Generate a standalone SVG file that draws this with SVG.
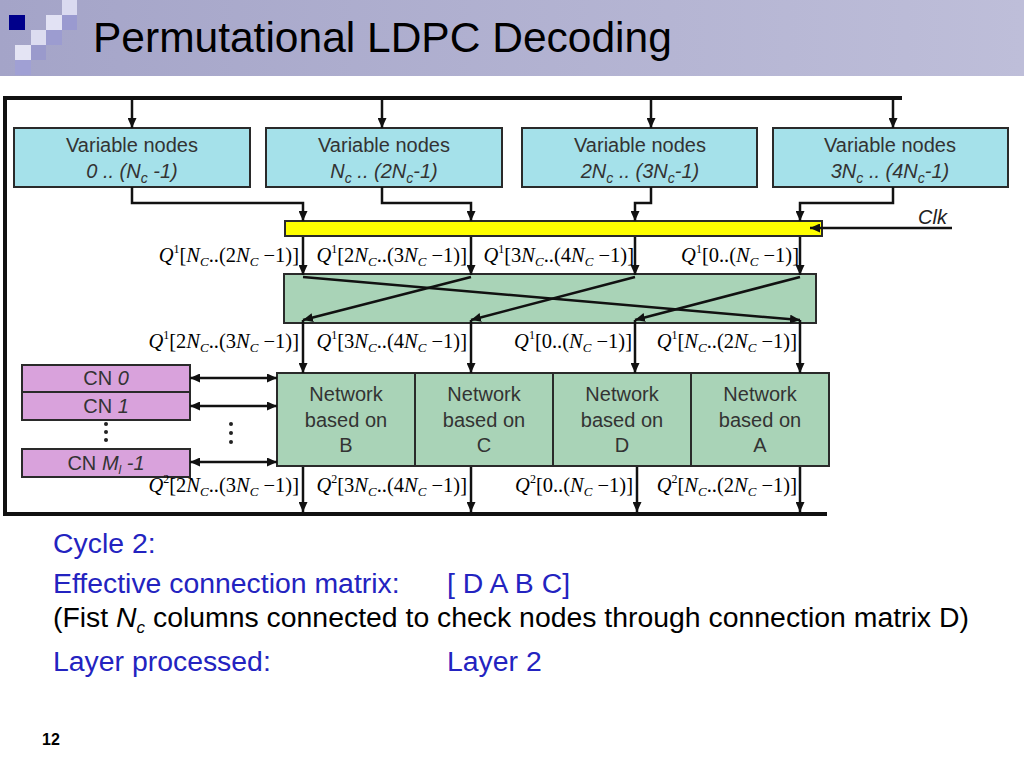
<svg xmlns="http://www.w3.org/2000/svg" width="1024" height="768" viewBox="0 0 1024 768">
<defs>
<linearGradient id="hdr" x1="0" y1="0" x2="1" y2="0">
<stop offset="0" stop-color="#a4a4c8"/>
<stop offset="1" stop-color="#bebed9"/>
</linearGradient>
<marker id="ah" markerUnits="userSpaceOnUse" markerWidth="10" markerHeight="9" refX="10" refY="4.5" orient="auto-start-reverse">
<path d="M0,0 L10,4.5 L0,9 z" fill="#111"/>
</marker>
</defs>
<style>
.sans{font-family:"Liberation Sans",Arial,sans-serif}
.box{stroke:#2a2a2a;stroke-width:2}
.vn{fill:#a5e1ea}
.nw{fill:#a9d3b7}
.cn{fill:#d9a2dc}
.bt{font-family:"Liberation Sans",Arial,sans-serif;font-size:20px;fill:#333;text-anchor:middle}
.it{font-style:italic}
.q{font-family:"Liberation Serif","Times New Roman",serif;font-size:20.5px;fill:#000;text-anchor:end}
.c{fill:none;stroke:#111;stroke-width:2.5}
.a{marker-end:url(#ah)}
.bus{fill:none;stroke:#111;stroke-width:4}
.blue{font-family:"Liberation Sans",Arial,sans-serif;font-size:28.4px;fill:#2323c0}
.blk{font-family:"Liberation Sans",Arial,sans-serif;font-size:28.4px;fill:#000}
</style>
<g id="header">
<rect x="0" y="0" width="1024" height="76" fill="url(#hdr)"/>
<rect x="62" y="0" width="15" height="15" fill="#dadaf0"/>
<rect x="9" y="15" width="16" height="15" fill="#00008b"/>
<rect x="46" y="15" width="16" height="15" fill="#e2e2f4"/>
<rect x="62" y="15" width="15" height="15" fill="#9a9ad0"/>
<rect x="31" y="30" width="15" height="15" fill="#dcdcf0"/>
<rect x="46" y="30" width="16" height="15" fill="#9c9cd0"/>
<rect x="15" y="45" width="16" height="15" fill="#e4e4f4"/>
<rect x="31" y="45" width="15" height="15" fill="#9a9acc"/>
<rect x="15" y="60" width="16" height="15" fill="#a0a0d4"/>
<text class="sans" x="93" y="52" font-size="42.5" fill="#000">Permutational LDPC Decoding</text>
</g>
<g id="vn0">
<rect class="box vn" x="14" y="128" width="236" height="59"/>
<text class="bt" x="132" y="152">Variable nodes</text>
<text class="bt it" x="132" y="178">0 .. (N<tspan font-size="14" dy="5">c</tspan><tspan dy="-5"> -1)</tspan></text>
</g>
<g id="vn1">
<rect class="box vn" x="266" y="128" width="236" height="59"/>
<text class="bt" x="384" y="152">Variable nodes</text>
<text class="bt it" x="384" y="178">N<tspan font-size="14" dy="5">c</tspan><tspan dy="-5"> .. (2N</tspan><tspan font-size="14" dy="5">c</tspan><tspan dy="-5">-1)</tspan></text>
</g>
<g id="vn2">
<rect class="box vn" x="522" y="128" width="235" height="59"/>
<text class="bt" x="640" y="152">Variable nodes</text>
<text class="bt it" x="640" y="178">2N<tspan font-size="14" dy="5">c</tspan><tspan dy="-5"> .. (3N</tspan><tspan font-size="14" dy="5">c</tspan><tspan dy="-5">-1)</tspan></text>
</g>
<g id="vn3">
<rect class="box vn" x="773" y="128" width="235" height="59"/>
<text class="bt" x="890" y="152">Variable nodes</text>
<text class="bt it" x="890" y="178">3N<tspan font-size="14" dy="5">c</tspan><tspan dy="-5"> .. (4N</tspan><tspan font-size="14" dy="5">c</tspan><tspan dy="-5">-1)</tspan></text>
</g>
<g id="register">
<rect x="285" y="221" width="537" height="15" fill="#ffff00" stroke="#2a2a2a" stroke-width="2"/>
<text class="sans it" x="918" y="224" font-size="20" fill="#222">Clk</text>
</g>
<g id="permutation">
<rect class="box nw" x="284" y="274" width="532" height="49"/>
</g>
<g id="net-b">
<rect class="box nw" x="277" y="373" width="138" height="93"/>
<text class="bt" x="346" y="401">Network</text>
<text class="bt" x="346" y="427">based on</text>
<text class="bt" x="346" y="452">B</text>
</g>
<g id="net-c">
<rect class="box nw" x="415" y="373" width="138" height="93"/>
<text class="bt" x="484" y="401">Network</text>
<text class="bt" x="484" y="427">based on</text>
<text class="bt" x="484" y="452">C</text>
</g>
<g id="net-d">
<rect class="box nw" x="553" y="373" width="138" height="93"/>
<text class="bt" x="622" y="401">Network</text>
<text class="bt" x="622" y="427">based on</text>
<text class="bt" x="622" y="452">D</text>
</g>
<g id="net-a">
<rect class="box nw" x="691" y="373" width="138" height="93"/>
<text class="bt" x="760" y="401">Network</text>
<text class="bt" x="760" y="427">based on</text>
<text class="bt" x="760" y="452">A</text>
</g>
<g id="cn0">
<rect class="box cn" x="22" y="365" width="168" height="27"/>
<text class="bt" x="106" y="385" font-size="18">CN <tspan class="it">0</tspan></text>
</g>
<g id="cn1">
<rect class="box cn" x="22" y="392" width="168" height="28"/>
<text class="bt" x="106" y="413" font-size="18">CN <tspan class="it">1</tspan></text>
</g>
<g id="cnm">
<rect class="box cn" x="22" y="449" width="168" height="28"/>
<text class="bt" x="106" y="470" font-size="18">CN <tspan class="it">M<tspan font-size="12" dy="4">l</tspan><tspan dy="-4"> -1</tspan></tspan></text>
</g>
<g id="dots" fill="#222">
<circle cx="106" cy="424" r="2"/><circle cx="106" cy="432" r="2"/><circle cx="106" cy="440" r="2"/>
<circle cx="231" cy="424" r="2"/><circle cx="231" cy="433" r="2"/><circle cx="231" cy="442" r="2"/>
</g>
<g id="connectors">
<path class="bus" d="M902,98 H5 V514 H827"/>
<path class="c a" d="M132,98 V128"/>
<path class="c a" d="M382,98 V128"/>
<path class="c a" d="M651,98 V128"/>
<path class="c a" d="M893,98 V128"/>
<path class="c a" d="M132,187 V203 H303 V221"/>
<path class="c a" d="M382,187 V203 H471 V221"/>
<path class="c a" d="M651,187 V203 H635 V221"/>
<path class="c a" d="M893,187 V203 H800 V221"/>
<path class="c a" d="M952,228 H810"/>
<path class="c a" d="M303,237 V275"/>
<path class="c a" d="M471,237 V275"/>
<path class="c a" d="M635,237 V275"/>
<path class="c a" d="M800,237 V275"/>
<path class="c a" d="M303,277 L800,320"/>
<path class="c a" d="M471,277 L303,320"/>
<path class="c a" d="M635,277 L471,320"/>
<path class="c a" d="M800,277 L635,320"/>
<path class="c a" d="M303,320 V373"/>
<path class="c a" d="M471,320 V373"/>
<path class="c a" d="M635,320 V373"/>
<path class="c a" d="M800,320 V373"/>
<path class="c a" d="M303,467 V512"/>
<path class="c a" d="M471,467 V512"/>
<path class="c a" d="M637,467 V512"/>
<path class="c a" d="M800,467 V512"/>
<path class="c" stroke-width="2" d="M190,378 H277" marker-start="url(#ah)" marker-end="url(#ah)"/>
<path class="c" stroke-width="2" d="M190,406 H277" marker-start="url(#ah)" marker-end="url(#ah)"/>
<path class="c" stroke-width="2" d="M190,462 H277" marker-start="url(#ah)" marker-end="url(#ah)"/>
</g>
<g id="labels">
<text class="q" x="299" y="262"><tspan class="it">Q</tspan><tspan font-size="12" dy="-9">1</tspan><tspan dy="9">[</tspan><tspan class="it">N</tspan><tspan class="it" font-size="13" dy="4">C</tspan><tspan dy="-4">..(2</tspan><tspan class="it">N</tspan><tspan class="it" font-size="13" dy="4">C</tspan><tspan dy="-4"> −1)]</tspan></text>
<text class="q" x="467" y="262"><tspan class="it">Q</tspan><tspan font-size="12" dy="-9">1</tspan><tspan dy="9">[2</tspan><tspan class="it">N</tspan><tspan class="it" font-size="13" dy="4">C</tspan><tspan dy="-4">..(3</tspan><tspan class="it">N</tspan><tspan class="it" font-size="13" dy="4">C</tspan><tspan dy="-4"> −1)]</tspan></text>
<text class="q" x="634" y="262"><tspan class="it">Q</tspan><tspan font-size="12" dy="-9">1</tspan><tspan dy="9">[3</tspan><tspan class="it">N</tspan><tspan class="it" font-size="13" dy="4">C</tspan><tspan dy="-4">..(4</tspan><tspan class="it">N</tspan><tspan class="it" font-size="13" dy="4">C</tspan><tspan dy="-4"> −1)]</tspan></text>
<text class="q" x="799" y="262"><tspan class="it">Q</tspan><tspan font-size="12" dy="-9">1</tspan><tspan dy="9">[0..(</tspan><tspan class="it">N</tspan><tspan class="it" font-size="13" dy="4">C</tspan><tspan dy="-4"> −1)]</tspan></text>

<text class="q" x="299" y="348"><tspan class="it">Q</tspan><tspan font-size="12" dy="-9">1</tspan><tspan dy="9">[2</tspan><tspan class="it">N</tspan><tspan class="it" font-size="13" dy="4">C</tspan><tspan dy="-4">..(3</tspan><tspan class="it">N</tspan><tspan class="it" font-size="13" dy="4">C</tspan><tspan dy="-4"> −1)]</tspan></text>
<text class="q" x="467" y="348"><tspan class="it">Q</tspan><tspan font-size="12" dy="-9">1</tspan><tspan dy="9">[3</tspan><tspan class="it">N</tspan><tspan class="it" font-size="13" dy="4">C</tspan><tspan dy="-4">..(4</tspan><tspan class="it">N</tspan><tspan class="it" font-size="13" dy="4">C</tspan><tspan dy="-4"> −1)]</tspan></text>
<text class="q" x="632" y="348"><tspan class="it">Q</tspan><tspan font-size="12" dy="-9">1</tspan><tspan dy="9">[0..(</tspan><tspan class="it">N</tspan><tspan class="it" font-size="13" dy="4">C</tspan><tspan dy="-4"> −1)]</tspan></text>
<text class="q" x="797" y="348"><tspan class="it">Q</tspan><tspan font-size="12" dy="-9">1</tspan><tspan dy="9">[</tspan><tspan class="it">N</tspan><tspan class="it" font-size="13" dy="4">C</tspan><tspan dy="-4">..(2</tspan><tspan class="it">N</tspan><tspan class="it" font-size="13" dy="4">C</tspan><tspan dy="-4"> −1)]</tspan></text>

<text class="q" x="299" y="492"><tspan class="it">Q</tspan><tspan font-size="12" dy="-9">2</tspan><tspan dy="9">[2</tspan><tspan class="it">N</tspan><tspan class="it" font-size="13" dy="4">C</tspan><tspan dy="-4">..(3</tspan><tspan class="it">N</tspan><tspan class="it" font-size="13" dy="4">C</tspan><tspan dy="-4"> −1)]</tspan></text>
<text class="q" x="467" y="492"><tspan class="it">Q</tspan><tspan font-size="12" dy="-9">2</tspan><tspan dy="9">[3</tspan><tspan class="it">N</tspan><tspan class="it" font-size="13" dy="4">C</tspan><tspan dy="-4">..(4</tspan><tspan class="it">N</tspan><tspan class="it" font-size="13" dy="4">C</tspan><tspan dy="-4"> −1)]</tspan></text>
<text class="q" x="633" y="492"><tspan class="it">Q</tspan><tspan font-size="12" dy="-9">2</tspan><tspan dy="9">[0..(</tspan><tspan class="it">N</tspan><tspan class="it" font-size="13" dy="4">C</tspan><tspan dy="-4"> −1)]</tspan></text>
<text class="q" x="797" y="492"><tspan class="it">Q</tspan><tspan font-size="12" dy="-9">2</tspan><tspan dy="9">[</tspan><tspan class="it">N</tspan><tspan class="it" font-size="13" dy="4">C</tspan><tspan dy="-4">..(2</tspan><tspan class="it">N</tspan><tspan class="it" font-size="13" dy="4">C</tspan><tspan dy="-4"> −1)]</tspan></text>
</g>
<g id="notes">
<text class="blue" x="53" y="553">Cycle 2:</text>
<text class="blue" x="53" y="593">Effective connection matrix:</text>
<text class="blue" x="447" y="593">[ D A B C]</text>
<text class="blk" x="53" y="627">(Fist <tspan class="it">N</tspan><tspan class="it" font-size="17" dy="6">c</tspan><tspan dy="-6"> columns connected to check nodes through connection matrix D)</tspan></text>
<text class="blue" x="53" y="671">Layer processed:</text>
<text class="blue" x="447" y="671">Layer 2</text>
<text class="sans" x="42" y="745" font-size="16" font-weight="bold" fill="#000">12</text>
</g>
</svg>
